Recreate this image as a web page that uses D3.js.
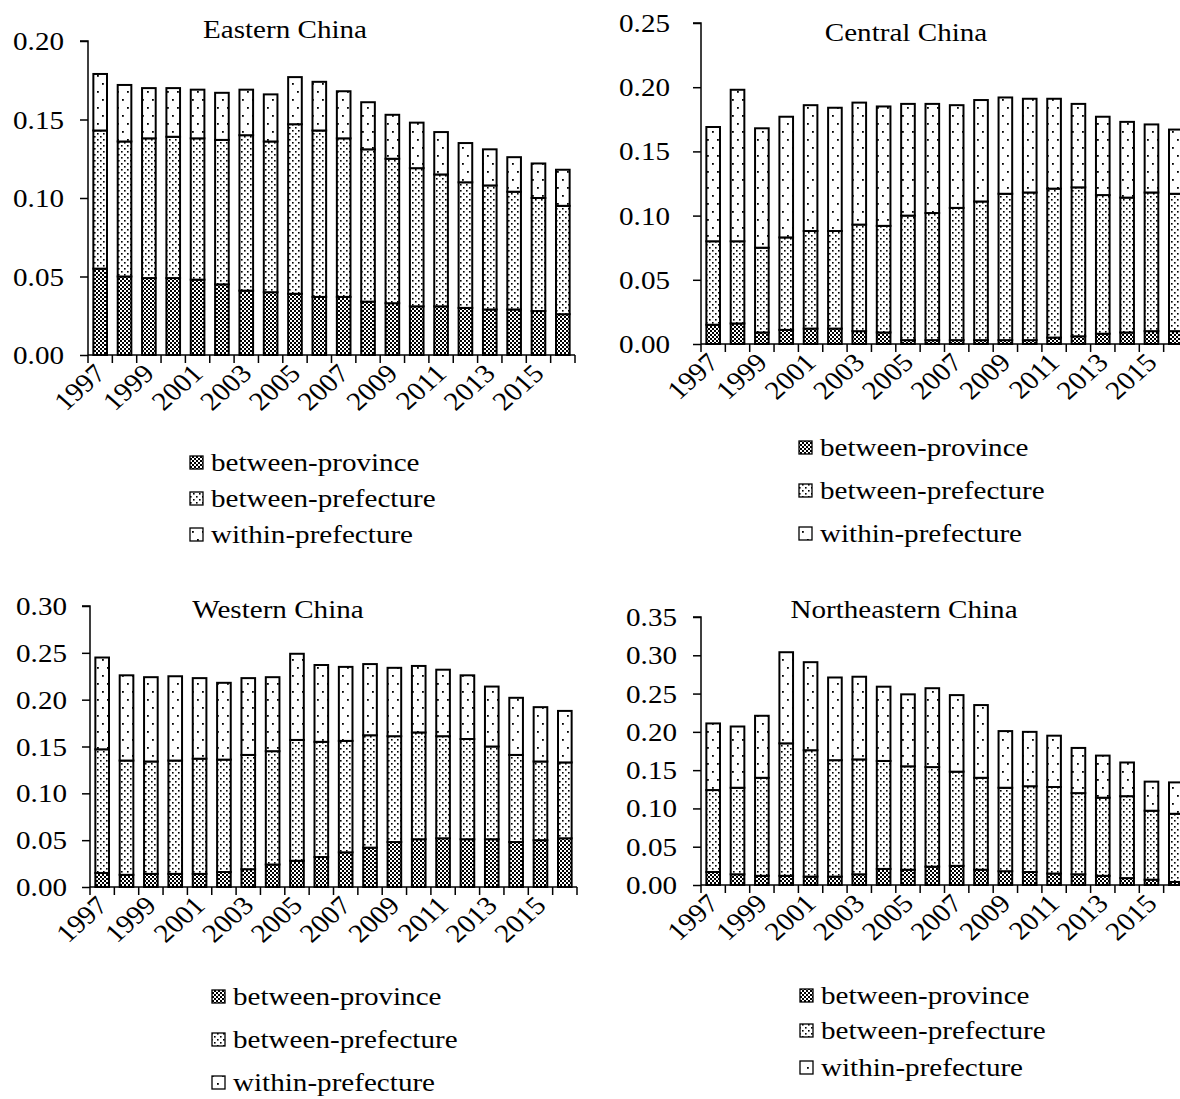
<!DOCTYPE html>
<html>
<head>
<meta charset="utf-8">
<script src="https://cdn.jsdelivr.net/npm/d3@7"></script>
<style>
  html, body { margin: 0; padding: 0; background: #fff; }
  svg { display: block; }
  text { font-family: "Liberation Serif", "Times New Roman", serif; fill: #000; }
</style>
</head>
<body>
<script>
// Years on the category axis
const years = d3.range(1997, 2017).map(String);
const yearLabels = ["1997","1999","2001","2003","2005","2007","2009","2011","2013","2015"];
const seriesNames = ["between-province", "between-prefecture", "within-prefecture"];

// Eastern China
const eastProvince   = [0.055,0.050,0.049,0.049,0.048,0.045,0.041,0.040,0.039,0.037,0.037,0.034,0.033,0.031,0.031,0.030,0.029,0.029,0.028,0.026];
const eastPrefecture = [0.088,0.086,0.089,0.090,0.090,0.092,0.099,0.096,0.108,0.106,0.101,0.097,0.092,0.088,0.084,0.080,0.079,0.075,0.072,0.069];
const eastWithin     = [0.036,0.036,0.032,0.031,0.031,0.030,0.029,0.030,0.030,0.031,0.030,0.030,0.028,0.029,0.027,0.025,0.023,0.022,0.022,0.023];
const eastTicks = [0, 0.05, 0.10, 0.15, 0.20];

// Central China
const centProvince   = [0.015,0.016,0.009,0.011,0.012,0.012,0.010,0.009,0.003,0.003,0.003,0.003,0.003,0.003,0.005,0.006,0.008,0.009,0.010,0.010];
const centPrefecture = [0.065,0.064,0.066,0.072,0.076,0.076,0.083,0.083,0.097,0.099,0.103,0.108,0.114,0.115,0.116,0.116,0.108,0.105,0.108,0.107];
const centWithin     = [0.089,0.118,0.093,0.094,0.098,0.096,0.095,0.093,0.087,0.085,0.080,0.079,0.075,0.073,0.070,0.065,0.061,0.059,0.053,0.050];
const centTicks = [0, 0.05, 0.10, 0.15, 0.20, 0.25];

// Western China
const westProvince   = [0.015,0.013,0.014,0.014,0.014,0.016,0.019,0.024,0.028,0.032,0.037,0.042,0.048,0.051,0.052,0.051,0.051,0.048,0.050,0.052];
const westPrefecture = [0.132,0.122,0.120,0.121,0.123,0.120,0.122,0.121,0.129,0.123,0.119,0.120,0.113,0.114,0.109,0.107,0.099,0.093,0.084,0.081];
const westWithin     = [0.098,0.091,0.090,0.090,0.086,0.082,0.082,0.079,0.092,0.082,0.079,0.076,0.073,0.071,0.071,0.068,0.064,0.061,0.058,0.055];
const westTicks = [0, 0.05, 0.10, 0.15, 0.20, 0.25, 0.30];

// Northeastern China
const neProvince   = [0.017,0.014,0.012,0.012,0.011,0.011,0.014,0.021,0.020,0.024,0.025,0.020,0.018,0.017,0.015,0.014,0.012,0.009,0.007,0.004];
const nePrefecture = [0.107,0.113,0.128,0.173,0.165,0.152,0.150,0.141,0.135,0.130,0.123,0.120,0.109,0.112,0.113,0.106,0.102,0.107,0.090,0.089];
const neWithin     = [0.087,0.080,0.081,0.119,0.115,0.108,0.108,0.097,0.094,0.103,0.100,0.095,0.074,0.071,0.067,0.059,0.055,0.044,0.038,0.041];
const neTicks = [0, 0.05, 0.10, 0.15, 0.20, 0.25, 0.30, 0.35];

const W = 1180, H = 1099;
const SX = 1.12;      // horizontal stretch applied to all lettering
const FS = 26;        // font size
const STEP = 24.35;   // width of one year band

const svg = d3.select("body").append("svg")
  .attr("width", W).attr("height", H)
  .attr("viewBox", `0 0 ${W} ${H}`);
svg.append("rect").attr("width", W).attr("height", H).attr("fill", "#fff");

// Fill patterns: checkerboard, dense dots, sparse dots
const defs = svg.append("defs");
const pCheck = defs.append("pattern").attr("id", "pat-province")
  .attr("patternUnits", "userSpaceOnUse").attr("width", 4).attr("height", 4);
pCheck.append("rect").attr("width", 4).attr("height", 4).attr("fill", "#fff");
pCheck.append("rect").attr("width", 2).attr("height", 2).attr("fill", "#000");
pCheck.append("rect").attr("x", 2).attr("y", 2).attr("width", 2).attr("height", 2).attr("fill", "#000");

const pDense = defs.append("pattern").attr("id", "pat-prefecture")
  .attr("patternUnits", "userSpaceOnUse").attr("width", 6).attr("height", 6);
pDense.append("rect").attr("width", 6).attr("height", 6).attr("fill", "#fff");
pDense.append("rect").attr("x", 1).attr("y", 1).attr("width", 1.6).attr("height", 1.6).attr("fill", "#000");
pDense.append("rect").attr("x", 4).attr("y", 4).attr("width", 1.6).attr("height", 1.6).attr("fill", "#000");

const pSparse = defs.append("pattern").attr("id", "pat-within")
  .attr("patternUnits", "userSpaceOnUse").attr("width", 10).attr("height", 16);
pSparse.append("rect").attr("width", 10).attr("height", 16).attr("fill", "#fff");
pSparse.append("rect").attr("x", 2).attr("y", 3).attr("width", 1.8).attr("height", 1.8).attr("fill", "#000");
pSparse.append("rect").attr("x", 7).attr("y", 11).attr("width", 1.8).attr("height", 1.8).attr("fill", "#000");

const fills = ["url(#pat-province)", "url(#pat-prefecture)", "url(#pat-within)"];

function stretchedText(g, x, y, str, anchor, extra) {
  return g.append("text")
    .attr("transform", `translate(${x},${y}) scale(${SX},1)` + (extra || ""))
    .attr("text-anchor", anchor)
    .attr("font-size", FS)
    .text(str);
}

function drawPanel(cfg) {
  const g = svg.append("g");
  const rows = years.map((yr, i) => ({
    year: yr,
    "between-province": cfg.series[0][i],
    "between-prefecture": cfg.series[1][i],
    "within-prefecture": cfg.series[2][i]
  }));
  const stacked = d3.stack().keys(seriesNames)(rows);

  const x = d3.scaleBand().domain(years)
    .range([cfg.x0, cfg.x0 + STEP * years.length]).padding(0);
  const yMax = cfg.ticks[cfg.ticks.length - 1];
  const y = d3.scaleLinear().domain([0, yMax]).range([cfg.y0, cfg.yTop]);

  const barInset = x.bandwidth() * 0.22;
  const barW = x.bandwidth() * 0.56;

  stacked.forEach((layer, k) => {
    g.append("g").selectAll("rect").data(layer).join("rect")
      .attr("x", d => x(d.data.year) + barInset)
      .attr("width", barW)
      .attr("y", d => y(d[1]))
      .attr("height", d => y(d[0]) - y(d[1]))
      .attr("fill", fills[k])
      .attr("stroke", "#000")
      .attr("stroke-width", 2);
  });

  // y axis
  const yAxis = g.append("g").attr("transform", `translate(${cfg.x0},0)`)
    .call(d3.axisLeft(y).tickValues(cfg.ticks).tickSize(8).tickFormat(""));
  yAxis.select(".domain").attr("d", `M-8,${y(yMax)}H0V${cfg.y0}`);
  yAxis.selectAll("line, path").attr("stroke", "#000").attr("stroke-width", 1.5);
  cfg.ticks.forEach(t => {
    stretchedText(g, cfg.x0 - cfg.labelGap, y(t) + 9, d3.format(".2f")(t), "end");
  });

  // x axis with ticks at band boundaries
  const bounds = years.map(yr => x(yr)).concat([x.range()[1]]);
  g.append("line").attr("x1", cfg.x0).attr("x2", x.range()[1])
    .attr("y1", cfg.y0).attr("y2", cfg.y0)
    .attr("stroke", "#000").attr("stroke-width", 1.5);
  g.append("g").selectAll("line").data(bounds).join("line")
    .attr("x1", d => d).attr("x2", d => d)
    .attr("y1", cfg.y0).attr("y2", cfg.y0 + 8)
    .attr("stroke", "#000").attr("stroke-width", 1.5);
  yearLabels.forEach(lbl => {
    const cx = x(lbl) + x.bandwidth() / 2;
    stretchedText(g, cx + 7, cfg.y0 + 20, lbl, "end", " rotate(-45)");
  });

  // title
  stretchedText(g, cfg.titleX, cfg.titleY, cfg.title, "middle");

  // legend
  seriesNames.forEach((name, k) => {
    const by = cfg.legendY[k];
    g.append("rect").attr("x", cfg.legendX).attr("y", by - 15)
      .attr("width", 13).attr("height", 13)
      .attr("fill", fills[k]).attr("stroke", "#000").attr("stroke-width", 1.3);
    stretchedText(g, cfg.legendX + 21, by, name, "start");
  });
}

drawPanel({
  title: "Eastern China", series: [eastProvince, eastPrefecture, eastWithin], ticks: eastTicks,
  x0: 88, y0: 355, yTop: 41, titleX: 285, titleY: 38, labelGap: 24,
  legendX: 190, legendY: [471, 507, 543]
});
drawPanel({
  title: "Central China", series: [centProvince, centPrefecture, centWithin], ticks: centTicks,
  x0: 701, y0: 344, yTop: 23, titleX: 906, titleY: 41, labelGap: 31,
  legendX: 799, legendY: [456, 499, 542]
});
drawPanel({
  title: "Western China", series: [westProvince, westPrefecture, westWithin], ticks: westTicks,
  x0: 90, y0: 887, yTop: 606, titleX: 278, titleY: 618, labelGap: 23,
  legendX: 212, legendY: [1005, 1048, 1091]
});
drawPanel({
  title: "Northeastern China", series: [neProvince, nePrefecture, neWithin], ticks: neTicks,
  x0: 701, y0: 885, yTop: 617, titleX: 904, titleY: 618, labelGap: 24,
  legendX: 800, legendY: [1004, 1039, 1076]
});
</script>
</body>
</html>
